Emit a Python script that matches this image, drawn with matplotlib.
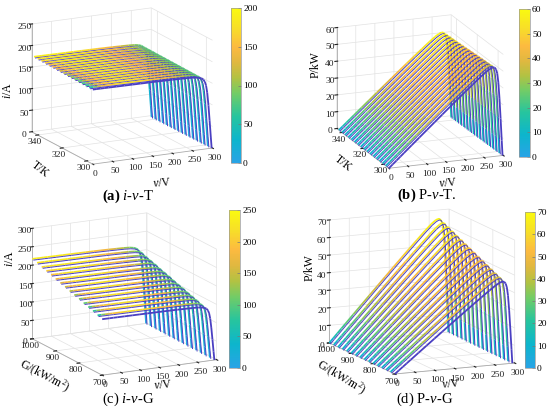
import numpy as np
import matplotlib
matplotlib.use("Agg")
import matplotlib.pyplot as plt
from matplotlib.colors import LinearSegmentedColormap, Normalize
from matplotlib.cm import ScalarMappable
import matplotlib.patheffects as pe
from mpl_toolkits.mplot3d.art3d import Line3DCollection

plt.rcParams['font.family'] = ['Liberation Serif', 'DejaVu Serif']
plt.rcParams['mathtext.fontset'] = 'custom'
plt.rcParams['mathtext.rm'] = 'Liberation Serif'
plt.rcParams['mathtext.it'] = 'Liberation Serif:italic'
plt.rcParams['mathtext.bf'] = 'Liberation Serif:bold'
plt.rcParams['grid.color'] = '#e2e2e2'
plt.rcParams['grid.linewidth'] = 0.5

# voltage samples along one curve, as a fraction of Voc, and current as fraction of Isc
v_frac = [0, 0.034, 0.067, 0.101, 0.134, 0.201, 0.268, 0.336, 0.403, 0.470, 0.537, 0.604,
          0.671, 0.738, 0.805, 0.856, 0.889, 0.913, 0.930, 0.943, 0.953, 0.963, 0.973,
          0.983, 0.993, 1.0]
i_frac = [1.000, 1.000, 0.999, 0.999, 0.998, 0.997, 0.996, 0.995, 0.994, 0.993, 0.992, 0.990,
          0.988, 0.985, 0.982, 0.977, 0.968, 0.955, 0.935, 0.900, 0.850, 0.750,
          0.580, 0.370, 0.150, 0.0]

# temperature sweep (K): short-circuit current (A), open-circuit voltage (V), peak power (kW)
T_vals = [295, 298, 301, 304, 307, 310, 313, 316, 319, 322, 325, 328, 331, 334, 337, 340, 343]
isc_T = [173.0, 173.25, 173.5, 173.75, 174.0, 174.25, 174.5, 174.75, 175.0,
         175.25, 175.5, 175.75, 176.0, 176.25, 176.5, 176.75, 177.0]
voc_T = [298.0, 297.8, 297.6, 297.4, 297.2, 297.0, 296.8, 296.6, 296.4,
         296.2, 296.0, 295.8, 295.6, 295.4, 295.2, 295.0, 294.8]
pmax_T = [53.0, 52.9, 52.8, 52.7, 52.6, 52.5, 52.4, 52.3, 52.2,
          52.0, 51.9, 51.8, 51.7, 51.6, 51.5, 51.4, 51.2]

# irradiance sweep: short-circuit current (A), open-circuit voltage (V), peak power (kW)
G_vals = [700, 720, 740, 760, 780, 800, 820, 840, 860, 880, 900, 920, 940, 960, 980, 1000]
isc_G = [152, 156, 161, 165, 169, 174, 178, 182, 187, 191, 195, 200, 204, 208, 213, 217]
voc_G = [294.0, 294.3, 294.5, 294.8, 295.1, 295.3, 295.6, 295.9,
         296.1, 296.4, 296.7, 296.9, 297.2, 297.5, 297.7, 298.0]
pmax_G = [47.0, 48.2, 49.4, 50.6, 51.8, 53.0, 54.2, 55.4,
          56.6, 57.8, 59.0, 60.2, 61.4, 62.6, 63.8, 65.0]

cmap = LinearSegmentedColormap.from_list('pv', [
    (0.00, (0.16, 0.64, 0.90)),
    (0.15, (0.05, 0.71, 0.80)),
    (0.30, (0.15, 0.77, 0.62)),
    (0.45, (0.45, 0.80, 0.40)),
    (0.55, (0.70, 0.76, 0.26)),
    (0.65, (0.88, 0.72, 0.25)),
    (0.75, (0.99, 0.73, 0.25)),
    (0.87, (0.97, 0.87, 0.16)),
    (1.00, (0.98, 0.98, 0.06))])
purple = '#4a3fc2'

fig = plt.figure(figsize=(5.5, 4.12), dpi=100)
W, H = 550.0, 412.0
S = 200.0


def put(x, y, s, **kw):
    fig.text(x / W, 1 - y / H, s, ha='center', va='center', **kw)


def panel(cx, cy, elev, azim, aspect, zS, rows, isc, voc, pmax, kind, zmax, zstep, cmax,
          ylim, yticks, cbar_box):
    ax = fig.add_axes([(cx - 0.5135 * S) / W, (H - cy - 0.5135 * S) / H, S / W, S / H],
                      projection='3d', proj_type='ortho')
    ax.patch.set_alpha(0)
    ax.view_init(elev=elev, azim=azim)
    ax.set_box_aspect(aspect, zoom=zS / S)
    ax.set_xlim(0, 300, view_margin=0)
    ax.set_ylim(*ylim, view_margin=0)
    ax.set_zlim(0, zmax, view_margin=0)
    ax.set_xticks(range(0, 301, 50))
    ax.set_yticks(yticks)
    ax.set_zticks(range(0, zmax + 1, zstep))
    for a in (ax.xaxis, ax.yaxis, ax.zaxis):
        a.set_pane_color((1, 1, 1, 0))
        a.line.set_color('#aaaaaa')
        a.line.set_linewidth(0.6)
        a.set_tick_params(labelsize=6.8, pad=-5, colors='#222222')
    ax.yaxis.set_tick_params(pad=-6)

    n = len(rows)
    for k in range(n):
        v = voc[k] * np.array(v_frac)
        cur = isc[k] * np.array(i_frac)
        back = k / (n - 1)
        if kind == 'i':
            z = cur
            peak = 0.95 - 0.6 * (v / 282.0) ** 2.5
            c = peak - (peak - (0.12 + 0.82 * back)) * np.exp(-v / 30.0)
            c = c * (z / z[0]) ** 0.7
        else:
            p = v * cur
            z = pmax[k] * p / p.max()
            c = 0.08 + 0.9 * (p / p.max()) ** 0.6 * (1 - 0.6 * (1 - back) * (v / 300.0) ** 3)
        y = np.full_like(v, rows[k], dtype=float)
        pts = np.column_stack([v, y, z])
        segs = np.stack([pts[:-1], pts[1:]], axis=1)
        if k == 0:
            lc = Line3DCollection(segs, colors=purple, linewidths=1.3)
        else:
            cs = 0.5 * (c[:-1] + c[1:])
            lc = Line3DCollection(segs, colors=cmap(np.clip(cs, 0, 1)), linewidths=1.25)
            lc.set_path_effects([pe.Normal(),
                                 pe.Stroke(offset=(0.7, -0.9), linewidth=0.7, foreground=purple)])
        ax.add_collection3d(lc)

    l, t, r, b = cbar_box
    cax = fig.add_axes([l / W, (H - b) / H, (r - l) / W, (b - t) / H])
    sm = ScalarMappable(norm=Normalize(0, cmax), cmap=cmap)
    cb = fig.colorbar(sm, cax=cax, ticks=range(0, cmax + 1, zstep if cmax <= 70 else 50))
    cb.outline.set_edgecolor('#999999')
    cb.outline.set_linewidth(0.5)
    cax.tick_params(labelsize=6.8, length=2, width=0.5, direction='in', color='#777777', pad=1.5)
    return ax


panel(122, 86, 15.5, -116.8, (386, 391, 322), 214.7, T_vals, isc_T, voc_T, pmax_T,
      'i', 250, 50, 200, (295, 345), [300, 320, 340], (231, 8, 241, 163))
panel(420, 91.5, 17, -111, (353, 419, 304), 211.2, T_vals, isc_T, voc_T, pmax_T,
      'P', 60, 10, 60, (295, 345), [300, 320, 340], (519, 9, 530, 157))
panel(124.5, 294, 15.4, -117, (370, 443, 330), 224.1, G_vals, isc_G, voc_G, pmax_G,
      'i', 300, 50, 250, (700, 1000), [700, 800, 900, 1000], (229, 210, 240, 368))
panel(422, 291.5, 12, -113.7, (377, 470, 362), 236.9, G_vals, isc_G, voc_G, pmax_G,
      'P', 70, 10, 70, (700, 1000), [700, 800, 900, 1000], (525, 212, 535, 368))

lab = dict(fontsize=8.5)
# axis titles
put(8, 91, '$i$/A', rotation=90, **lab)
put(40, 169, 'T/K', rotation=-38, **lab)
put(162, 183, '$v$/V', rotation=5, **lab)
put(316, 65, 'P/kW', rotation=90, **lab)
put(343, 163, 'T/K', rotation=-38, **lab)
put(448, 183, '$v$/V', rotation=5, **lab)
put(10, 259, '$i$/A', rotation=90, **lab)
put(44, 376, 'G/(kW/m$^2$)', rotation=-28, **lab)
put(163, 385, '$v$/V', rotation=5, **lab)
put(310, 268, 'P/kW', rotation=90, **lab)
put(341, 378, 'G/(kW/m$^2$)', rotation=-31, **lab)
put(451, 384, '$v$/V', rotation=5, **lab)

# captions
put(128, 196, r'$\mathbf{(a)}$ $i$-$v$-T', fontsize=10.5)
put(427, 195, r'$\mathbf{(b)}$ P-$v$-T.', fontsize=10.5)
put(128, 399, r'(c) $i$-$v$-G', fontsize=10.5)
put(425, 399, r'(d) P-$v$-G', fontsize=10.5)

fig.savefig('out.png', dpi=100)
